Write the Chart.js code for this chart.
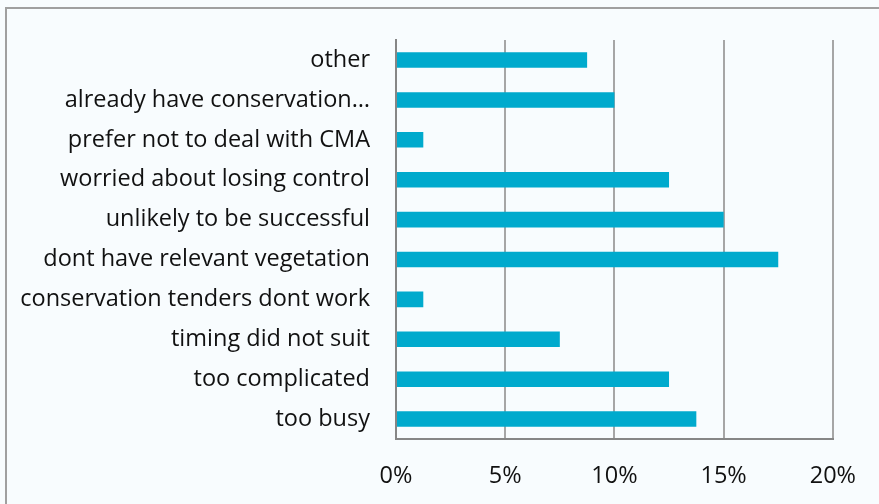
<!DOCTYPE html>
<html>
<head>
<meta charset="utf-8">
<script src="https://cdn.jsdelivr.net/npm/chart.js@4"></script>
<style>
  html, body { margin: 0; padding: 0; background: #f8fcfe; }
  #wrap { position: relative; width: 879px; height: 504px; }
  #frame { position: absolute; left: 5px; top: 7px; right: -5px; bottom: -5px; border-left: 2px solid #a0a0a0; border-top: 2px solid #a0a0a0; }
  canvas { position: absolute; left: 0; top: 0; }
</style>
</head>
<body>
<div id="wrap">
  <div id="frame"></div>
  <canvas id="reasonsChart" width="879" height="504"></canvas>
</div>
<script>
// Colours
const barColor = '#00aacd';
const gridGray = '#a6a6a6';
const axisGray = '#868686';
const textColor = '#111111';

// Data (top to bottom as shown)
const reasons = [
  'other',
  'already have conservation…',
  'prefer not to deal with CMA',
  'worried about losing control',
  'unlikely to be successful',
  'dont have relevant vegetation',
  'conservation tenders dont work',
  'timing did not suit',
  'too complicated',
  'too busy'
];
const percentages = [8.75, 10, 1.25, 12.5, 15, 17.5, 1.25, 7.5, 12.5, 13.75];
const xTicks = [0, 5, 10, 15, 20];

const font = { family: '"Open Sans", sans-serif', size: 23.5 };

const ctx = document.getElementById('reasonsChart').getContext('2d');
new Chart(ctx, {
  type: 'bar',
  data: {
    labels: reasons,
    datasets: [{
      data: percentages,
      backgroundColor: barColor,
      borderWidth: 0,
      categoryPercentage: 1,
      barPercentage: 0.39
    }]
  },
  options: {
    indexAxis: 'y',
    responsive: false,
    animation: false,
    layout: {
      padding: { top: 37, right: 42, left: 0, bottom: 0 }
    },
    plugins: {
      legend: { display: false },
      tooltip: { enabled: false }
    },
    scales: {
      x: {
        min: 0,
        max: 20,
        afterBuildTicks: scale => {
          scale.ticks = xTicks.map(v => ({ value: v }));
        },
        afterFit: scale => { scale.height = 65; },
        ticks: {
          color: textColor,
          font: font,
          padding: 23,
          maxRotation: 0,
          callback: value => value + '%'
        },
        grid: {
          color: gridGray,
          lineWidth: 2,
          drawTicks: false
        },
        border: { color: axisGray, width: 2 }
      },
      y: {
        afterFit: scale => { scale.width = 396; },
        ticks: {
          color: textColor,
          font: font,
          padding: 26,
          autoSkip: false
        },
        grid: { display: false, drawTicks: false },
        border: { color: axisGray, width: 2 }
      }
    }
  }
});
</script>
</body>
</html>
